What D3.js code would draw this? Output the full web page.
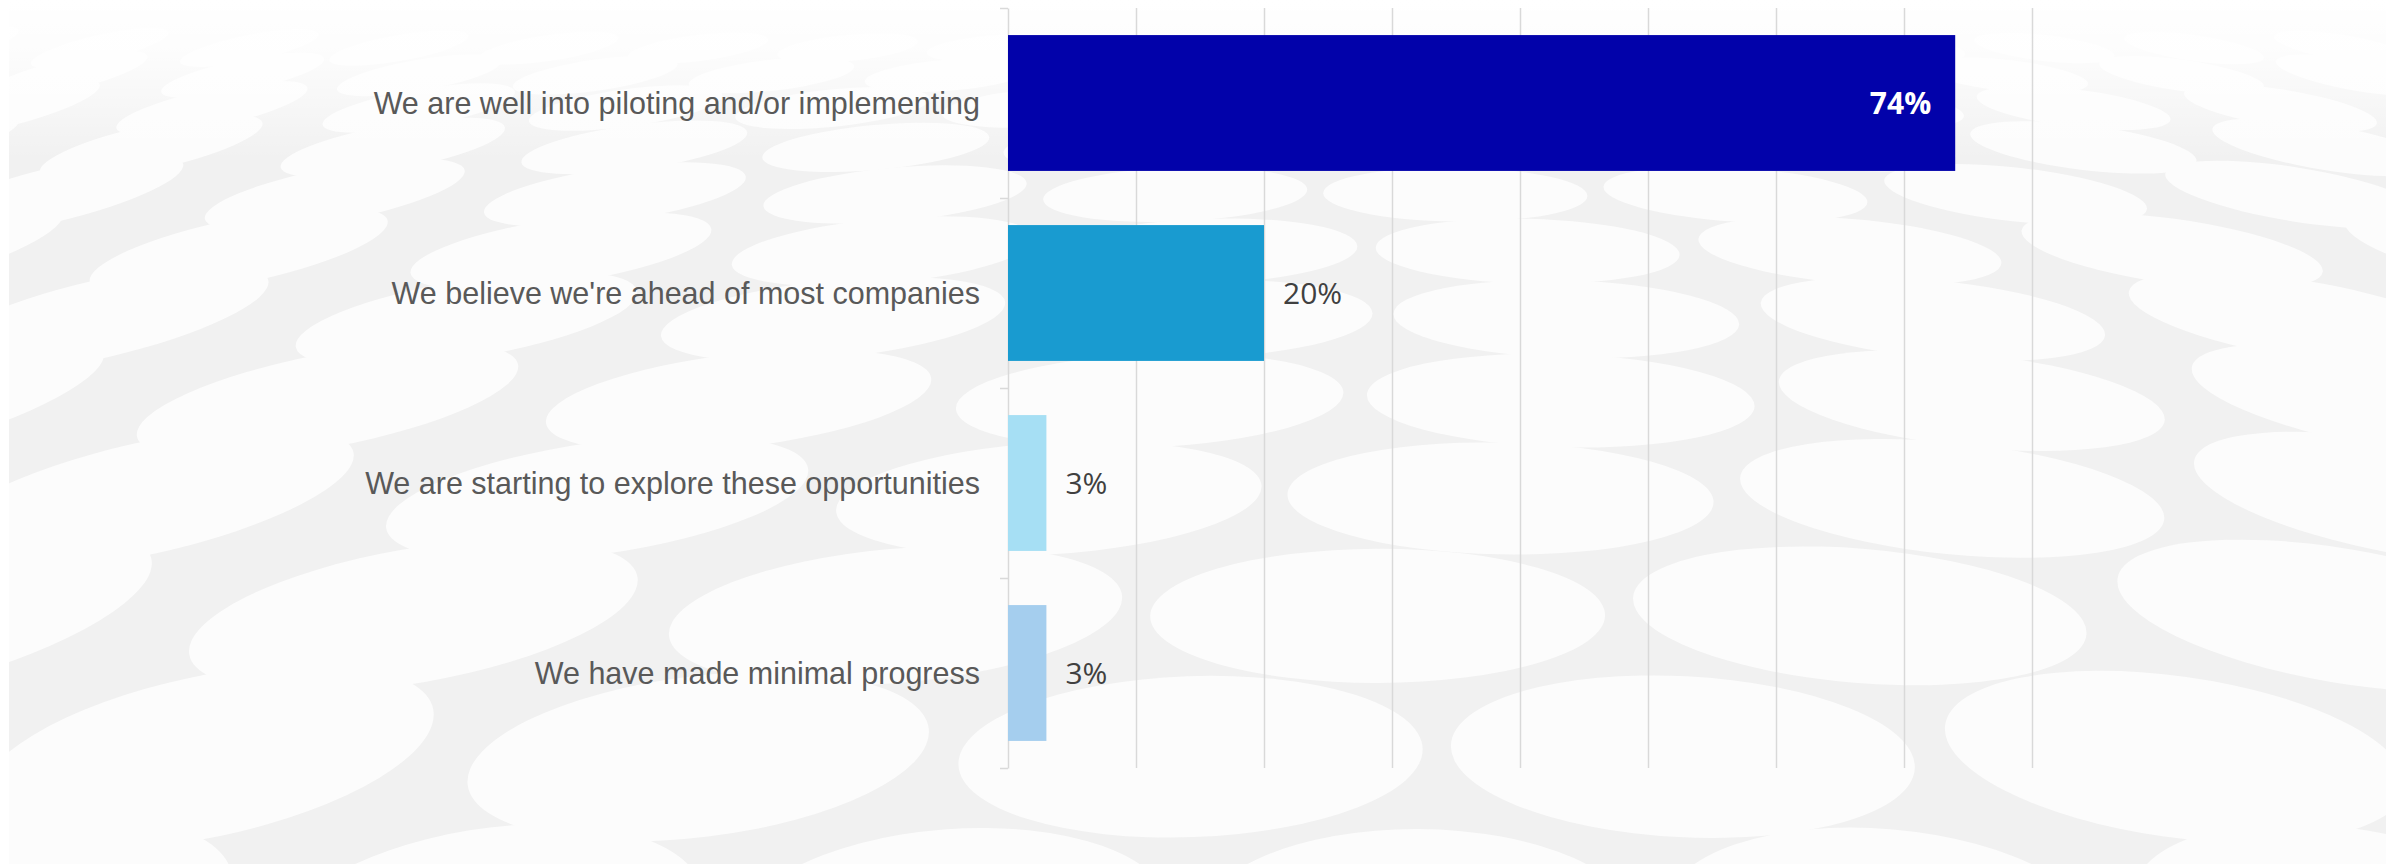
<!DOCTYPE html>
<html>
<head>
<meta charset="utf-8">
<script src="https://cdn.jsdelivr.net/npm/d3@7"></script>
<style>
  html, body { margin: 0; padding: 0; background: #ffffff; }
  svg { display: block; }
</style>
</head>
<body>
<div id="chart"></div>
<script>
// ---- data ----
const categories = [
  "We are well into piloting and/or implementing",
  "We believe we're ahead of most companies",
  "We are starting to explore these opportunities",
  "We have made minimal progress"
];
const values = [74, 20, 3, 3];
const valueLabels = ["74%", "20%", "3%", "3%"];
const barColors = ["#0202aa", "#199bd0", "#a6dff4", "#a5ceee"];
const xTicks = [0, 10, 20, 30, 40, 50, 60, 70, 80];

// ---- layout ----
const W = 2386, H = 864;
const plot = { left: 1008, right: 2032, top: 8, bottom: 768 };

const svg = d3.select("#chart").append("svg")
  .attr("width", W).attr("height", H);

// ---- decorative background (perspective ellipse texture) ----
const bg = svg.append("g").attr("class", "background");
bg.append("rect").attr("x", 0).attr("y", 0).attr("width", W).attr("height", H).attr("fill", "#f1f1f1");
const ell = [];
{
  let yy = 48, ry = 13, row = 0;
  while (yy < H + 250) {
    const aspect = 5.6 - 3.1 * Math.min(yy / H, 1.1);
    const rx = ry * aspect;
    const stepX = rx * 2.12;
    const off = (row % 2) * stepX / 2 - stepX / 3 + row * 37;
    for (let xx = off % stepX - stepX; xx < W + rx; xx += stepX) {
      const ang = -14 + 24 * (xx / W);
      ell.push({ x: xx, y: yy, rx: rx, ry: ry, a: ang });
    }
    yy += ry * 2.1;
    ry *= 1.2;
    row++;
  }
}
bg.selectAll("ellipse").data(ell).join("ellipse")
  .attr("cx", d => d.x).attr("cy", d => d.y)
  .attr("rx", d => d.rx).attr("ry", d => d.ry)
  .attr("transform", d => `rotate(${d.a},${d.x},${d.y})`)
  .attr("fill", "#fcfcfc");
const defs = svg.append("defs");
const grad = defs.append("linearGradient").attr("id", "fade")
  .attr("x1", 0).attr("y1", 0).attr("x2", 0).attr("y2", 1);
grad.append("stop").attr("offset", "0").attr("stop-color", "#fff").attr("stop-opacity", 1);
grad.append("stop").attr("offset", "0.3").attr("stop-color", "#fff").attr("stop-opacity", 0.85);
grad.append("stop").attr("offset", "1").attr("stop-color", "#fff").attr("stop-opacity", 0);
bg.append("rect").attr("x", 0).attr("y", 0).attr("width", W).attr("height", 160).attr("fill", "url(#fade)");
bg.append("rect").attr("x", 0).attr("y", 0).attr("width", 9).attr("height", H).attr("fill", "#fff");

// ---- scales ----
const x = d3.scaleLinear().domain([0, 80]).range([plot.left, plot.right]);
const y = d3.scaleBand().domain(categories)
  .range([plot.top, plot.bottom]).paddingInner(0.285).paddingOuter(0.1425);
const yEdge = d3.scaleLinear().domain([0, categories.length]).range([plot.top, plot.bottom]);

// ---- gridlines ----
const grid = svg.append("g")
  .attr("transform", `translate(0,${plot.bottom})`)
  .call(d3.axisBottom(x).tickValues(xTicks.filter(t => t > 0))
    .tickSize(-(plot.bottom - plot.top)).tickFormat(""));
grid.select(".domain").remove();
grid.selectAll(".tick line").attr("stroke", "#d9d9d9").attr("stroke-width", 1.5);

// ---- y axis line with boundary ticks ----
const yAx = svg.append("g")
  .attr("transform", `translate(${plot.left},0)`)
  .call(d3.axisLeft(yEdge).tickValues(d3.range(categories.length + 1))
    .tickSize(8).tickSizeOuter(0).tickFormat(""));
yAx.select(".domain").attr("stroke", "#d9d9d9").attr("stroke-width", 1.5);
yAx.selectAll(".tick line").attr("stroke", "#d9d9d9").attr("stroke-width", 1.5);

// ---- category labels ----
svg.append("g").selectAll("text").data(categories).join("text")
  .attr("x", plot.left - 28)
  .attr("y", d => y(d) + y.bandwidth() / 2)
  .attr("dy", "0.36em")
  .attr("text-anchor", "end")
  .attr("font-family", "'Liberation Sans', Arial, sans-serif")
  .attr("font-size", 30.5)
  .attr("fill", "#595959")
  .text(d => d);

// ---- bars ----
const rows = categories.map((c, i) => ({ c, v: values[i], label: valueLabels[i], color: barColors[i] }));
svg.append("g").selectAll("rect").data(rows).join("rect")
  .attr("x", x(0))
  .attr("y", d => y(d.c))
  .attr("width", d => x(d.v) - x(0))
  .attr("height", y.bandwidth())
  .attr("fill", d => d.color);

// ---- value labels ----
svg.append("g").selectAll("text").data(rows).join("text")
  .attr("x", d => d.v > 50 ? x(d.v) - 24 : x(d.v) + 19)
  .attr("y", d => y(d.c) + y.bandwidth() / 2)
  .attr("dy", "0.36em")
  .attr("text-anchor", d => d.v > 50 ? "end" : "start")
  .attr("font-family", "'Open Sans', sans-serif")
  .attr("font-size", 30)
  .attr("font-weight", d => d.v > 50 ? "bold" : "normal")
  .attr("fill", d => d.v > 50 ? "#ffffff" : "#404040")
  .text(d => d.label);
</script>
</body>
</html>
